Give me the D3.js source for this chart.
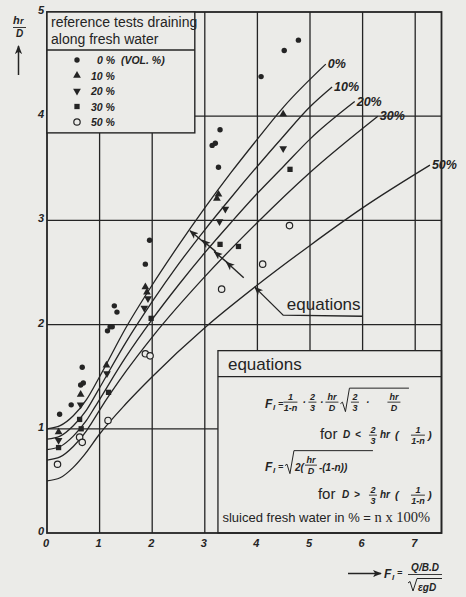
<!DOCTYPE html>
<html><head><meta charset="utf-8">
<script src="https://cdn.jsdelivr.net/npm/d3@7"></script>
<style>
html,body{margin:0;padding:0;background:#ebebe8;}
svg{display:block;}
</style></head><body>
<svg id="chart" width="466" height="597"></svg>
<script>
// Axis ticks
const xTicks = [0, 1, 2, 3, 4, 5, 6, 7];
const yTicks = [0, 1, 2, 3, 4, 5];

// Legend entries (share of sluiced fresh water, vol. %)
const seriesNames = ["0 %  (VOL. %)", "10 %", "20 %", "30 %", "50 %"];
const seriesKinds = ["dot", "tri", "triDown", "square", "ring"];

// Reference tests: [F_l, h_r/D]
const tests0 = [[0.24,1.14],[0.46,1.23],[0.64,1.42],[0.69,1.44],[0.67,1.59],[1.15,1.94],[1.20,1.98],[1.24,1.98],[1.28,2.18],[1.33,2.12],[1.87,2.58],[1.95,2.81],[3.14,3.72],[3.20,3.74],[3.26,3.51],[3.29,3.87],[4.07,4.38],[4.51,4.63],[4.78,4.73]];
const tests10 = [[0.22,0.97],[0.64,1.33],[1.13,1.61],[1.87,2.36],[1.90,2.31],[3.26,3.25],[3.23,3.21],[4.49,4.02]];
const tests20 = [[0.22,0.89],[0.64,1.23],[1.14,1.53],[1.92,2.25],[1.85,2.16],[3.39,3.11],[3.28,2.99],[4.49,3.69]];
const tests30 = [[0.22,0.82],[0.62,1.09],[0.65,1.00],[1.17,1.35],[1.98,2.06],[3.29,2.77],[3.64,2.75],[4.62,3.49]];
const tests50 = [[0.20,0.66],[0.62,0.92],[0.67,0.87],[1.16,1.08],[1.87,1.72],[1.96,1.70],[3.32,2.34],[4.10,2.58],[4.61,2.95]];

// Equation curves: [F_l, h_r/D]
const curve0 = [[0,1.0],[0.25,1.03],[0.5,1.125],[0.75,1.28],[1,1.5],[1.5,1.97],[2,2.38],[2.5,2.76],[3,3.12],[3.5,3.46],[4,3.78],[4.5,4.09],[5.3,4.5]];
const curve10 = [[0,0.9],[0.25,0.93],[0.5,1.03],[0.75,1.18],[0.95,1.35],[1.5,1.83],[2,2.22],[2.5,2.58],[3,2.91],[3.5,3.22],[4,3.52],[4.5,3.81],[5,4.09],[5.42,4.28]];
const curve20 = [[0,0.8],[0.25,0.83],[0.5,0.93],[0.75,1.08],[0.9,1.2],[1.5,1.69],[2,2.05],[2.5,2.38],[3,2.69],[3.5,2.98],[4,3.26],[4.5,3.52],[5,3.78],[5.85,4.14]];
const curve30 = [[0,0.7],[0.25,0.73],[0.5,0.83],[0.75,0.98],[0.84,1.05],[1,1.18],[1.5,1.55],[2,1.88],[3,2.46],[4,2.98],[5,3.46],[6.29,4.0]];
const curve50 = [[0,0.5],[0.25,0.53],[0.5,0.63],[0.71,0.75],[1,0.95],[1.5,1.24],[2,1.5],[3,1.97],[4,2.38],[5,2.76],[6,3.12],[7.28,3.53]];
const curveLabels = ["0%", "10%", "20%", "30%", "50%"];

// Arrows pointing at the curves: [tail, head]
const arrows = [[[2.98,2.79],[2.72,2.90]],[[3.21,2.70],[2.95,2.81]],[[3.44,2.59],[3.18,2.70]],[[3.74,2.45],[3.41,2.60]]];
const leader = [[3.95,2.36],[4.49,2.09],[6.0,2.08]];

const ink = "#242424";
const paper = "#ebebe8";
const svg = d3.select("#chart");

const x = d3.scaleLinear().domain([0, 7.5]).range([47, 441.5]);
const y = d3.scaleLinear().domain([0, 5]).range([533, 12]);

// legend box and equation box extents, in data units
const legendX1 = 2.81, legendY0 = 3.84;
const eqX0 = 3.25, eqY1 = 1.75, eqHeaderY = 1.5;

const defs = svg.append("defs");
defs.append("marker").attr("id", "head").attr("viewBox", "0 0 10 10")
  .attr("refX", 9).attr("refY", 5).attr("markerWidth", 9).attr("markerHeight", 9)
  .attr("markerUnits", "userSpaceOnUse").attr("orient", "auto")
  .append("path").attr("d", "M0,1 L10,5 L0,9 L2.5,5 Z").attr("fill", ink);

const grid = svg.append("g").attr("stroke", ink).attr("stroke-width", 1.3).attr("fill", "none");
function seg(x0, y0, x1, y1) {
  grid.append("line").attr("x1", x(x0)).attr("y1", y(y0)).attr("x2", x(x1)).attr("y2", y(y1));
}
// vertical grid
[1, 2].forEach(v => seg(v, 0, v, legendY0));
seg(3, 0, 3, 5);
[4, 5, 6, 7].forEach(v => seg(v, eqY1, v, 5));
// horizontal grid
seg(0, 1, eqX0, 1);
seg(0, 2, 7.5, 2);
seg(0, 3, 7.5, 3);
seg(legendX1, 4, 7.5, 4);
// small ticks on the x axis inside the equation box
[4, 5, 6, 7].forEach(v => grid.append("line").attr("x1", x(v)).attr("x2", x(v)).attr("y1", y(0)).attr("y2", y(0) - 4));

// equation box
grid.append("rect").attr("x", x(eqX0)).attr("y", y(eqY1)).attr("width", x(7.5) - x(eqX0)).attr("height", y(0) - y(eqY1)).attr("fill", paper);
seg(eqX0, eqHeaderY, 7.5, eqHeaderY);

// curves
const line = d3.line().x(d => x(d[0])).y(d => y(d[1])).curve(d3.curveMonotoneX);
const curves = [curve0, curve10, curve20, curve30, curve50];
const cg = svg.append("g");
curves.forEach((c, i) => {
  cg.append("path").attr("d", line(c)).attr("fill", "none").attr("stroke", ink).attr("stroke-width", 1.3);
  const last = c[c.length - 1];
  cg.append("text").attr("x", x(last[0]) + 2).attr("y", y(last[1]) + 4)
    .attr("font-family", "Liberation Sans").attr("font-style", "italic").attr("font-weight", "bold")
    .attr("font-size", 12.5).attr("fill", ink).text(curveLabels[i]);
});

// arrows and leader
arrows.forEach(a => {
  svg.append("line").attr("x1", x(a[0][0])).attr("y1", y(a[0][1])).attr("x2", x(a[1][0])).attr("y2", y(a[1][1]))
    .attr("stroke", ink).attr("stroke-width", 1.4).attr("marker-end", "url(#head)");
});
svg.append("path").attr("d", d3.line().x(d => x(d[0])).y(d => y(d[1]))(leader.slice().reverse()))
  .attr("fill", "none").attr("stroke", ink).attr("stroke-width", 1.3).attr("marker-end", "url(#head)");
svg.append("text").attr("x", x(4.56)).attr("y", y(2.14)).attr("font-family", "Liberation Sans")
  .attr("font-size", 17).attr("fill", ink).text("equations");

// data markers
function drawMarker(g, kind, cx, cy) {
  if (kind === "dot") {
    g.append("circle").attr("cx", cx).attr("cy", cy).attr("r", 2.7).attr("fill", ink);
  } else if (kind === "ring") {
    g.append("circle").attr("cx", cx).attr("cy", cy).attr("r", 3.2).attr("fill", paper).attr("stroke", ink).attr("stroke-width", 1.2);
  } else {
    const type = kind === "square" ? d3.symbolSquare : d3.symbolTriangle;
    const size = kind === "square" ? 28 : 26;
    g.append("path").attr("d", d3.symbol().type(type).size(size)())
      .attr("transform", `translate(${cx},${cy})` + (kind === "triDown" ? " rotate(180)" : ""))
      .attr("fill", ink);
  }
}
const tests = [tests0, tests10, tests20, tests30, tests50];
const mg = svg.append("g");
tests.forEach((set, i) => set.forEach(d => drawMarker(mg, seriesKinds[i], x(d[0]), y(d[1]))));

// frame
svg.append("rect").attr("x", x(0)).attr("y", y(5)).attr("width", x(7.5) - x(0)).attr("height", y(0) - y(5))
  .attr("fill", "none").attr("stroke", ink).attr("stroke-width", 1.8);

// legend box
const lg = svg.append("g").attr("transform", `translate(${x(0)},${y(5)})`);
lg.append("rect").attr("x", 0).attr("y", 0).attr("width", x(legendX1) - x(0)).attr("height", y(legendY0) - y(5))
  .attr("fill", paper).attr("stroke", ink).attr("stroke-width", 1.4);
lg.append("line").attr("x1", 0).attr("x2", x(legendX1) - x(0)).attr("y1", 38).attr("y2", 38).attr("stroke", ink).attr("stroke-width", 1.3);
lg.append("text").attr("x", 4).attr("y", 15).attr("font-family", "Liberation Sans").attr("font-size", 14).attr("fill", ink).text("reference tests draining");
lg.append("text").attr("x", 4).attr("y", 32).attr("font-family", "Liberation Sans").attr("font-size", 14).attr("fill", ink).text("along fresh water");
seriesNames.forEach((name, i) => {
  const cy = 48 + i * 15.5;
  drawMarker(lg, seriesKinds[i], 30, cy);
  lg.append("text").attr("x", i === 0 ? 50 : 44).attr("y", cy + 4)
    .attr("font-family", "Liberation Sans").attr("font-style", "italic").attr("font-weight", "bold")
    .attr("font-size", 10.5).attr("fill", ink).attr("xml:space", "preserve").text(name);
});

// tick labels
const tickFont = g => g.attr("font-family", "Liberation Sans").attr("font-style", "italic").attr("font-weight", "bold").attr("font-size", 11).attr("fill", ink);
const xl = svg.append("g").call(tickFont).attr("text-anchor", "middle");
xTicks.forEach(t => xl.append("text").attr("x", x(t) - 1).attr("y", 547).text(t));
const yl = svg.append("g").call(tickFont).attr("text-anchor", "end");
yTicks.forEach(t => yl.append("text").attr("x", 44).attr("y", y(t) + 2).text(t));

// generic text helper
function tx(g, px, py, s, o = {}) {
  return g.append("text").attr("x", px).attr("y", py)
    .attr("font-family", o.family || "Liberation Sans")
    .attr("font-style", o.italic === false ? "normal" : "italic")
    .attr("font-weight", o.bold === false ? "normal" : "bold")
    .attr("font-size", o.size || 10).attr("text-anchor", o.anchor || "start")
    .attr("fill", ink).text(s);
}
function bar(g, x0, x1, py) {
  g.append("line").attr("x1", x0).attr("x2", x1).attr("y1", py).attr("y2", py).attr("stroke", ink).attr("stroke-width", 0.9);
}
function frac(g, cx, py, top, bottom, w) {
  tx(g, cx, py - 4, top, { anchor: "middle", size: 9 });
  bar(g, cx - w / 2, cx + w / 2, py - 1.5);
  tx(g, cx, py + 7.5, bottom, { anchor: "middle", size: 9 });
}
function radical(g, x0, yb, ytop, x1) {
  g.append("path").attr("d", `M${x0},${yb - 8} L${x0 + 2},${yb - 9.5} L${x0 + 5},${yb} L${x0 + 9},${ytop} L${x1},${ytop}`)
    .attr("fill", "none").attr("stroke", ink).attr("stroke-width", 1);
}
function Fl(g, px, py) {
  tx(g, px, py, "F", { size: 12 });
  tx(g, px + 8, py + 2, "l", { size: 8 });
  tx(g, px + 13, py - 1, "=", { size: 9 });
}

// equation box contents
const eq = svg.append("g").attr("transform", `translate(${x(eqX0)},${y(eqY1)})`);
tx(eq, 10, 19, "equations", { italic: false, bold: false, size: 17 });
// first equation
Fl(eq, 47, 57);
frac(eq, 72.5, 53, "1", "1-n", 14);
tx(eq, 84.5, 55, "·", { size: 10 });
frac(eq, 94.5, 53, "2", "3", 8);
tx(eq, 102, 55, "·", { size: 10 });
frac(eq, 114, 53, "hr", "D", 13);
radical(eq, 122.5, 61, 37.5, 191);
frac(eq, 137, 53, "2", "3", 8);
tx(eq, 148, 55, "·", { size: 10 });
frac(eq, 176, 53, "hr", "D", 13);
// first condition
tx(eq, 102, 88, "for", { italic: false, bold: false, size: 15 });
tx(eq, 125, 87, "D", { size: 10 });
tx(eq, 137, 87, "<", { size: 10 });
frac(eq, 155, 86, "2", "3", 8);
tx(eq, 162, 87, "hr", { size: 10 });
tx(eq, 177, 88, "(", { size: 11 });
frac(eq, 200, 86, "1", "1-n", 14);
tx(eq, 210, 88, ")", { size: 11 });
// second equation
Fl(eq, 47, 120);
radical(eq, 67, 123, 100, 155);
tx(eq, 77, 120, "2(", { size: 10 });
frac(eq, 93, 116, "hr", "D", 12);
tx(eq, 101, 120, "-(1-n))", { size: 10 });
// second condition
tx(eq, 100, 148, "for", { italic: false, bold: false, size: 15 });
tx(eq, 124, 147, "D", { size: 10 });
tx(eq, 136, 147, ">", { size: 10 });
frac(eq, 155, 146, "2", "3", 8);
tx(eq, 162, 147, "hr", { size: 10 });
tx(eq, 177, 148, "(", { size: 11 });
frac(eq, 200, 146, "1", "1-n", 14);
tx(eq, 210, 148, ")", { size: 11 });
// footnote
const fn = eq.append("text").attr("x", 4.5).attr("y", 171).attr("fill", ink).attr("font-size", 13);
fn.append("tspan").attr("font-family", "Liberation Sans").text("sluiced fresh water in % = ");
fn.append("tspan").attr("font-family", "Liberation Serif").attr("font-size", 14.5).text("n x 100%");

// y-axis title
const yt = svg.append("g");
tx(yt, 13, 24, "h", { size: 11 });
tx(yt, 20, 24, "r", { size: 9 });
bar(yt, 13, 26, 27.5);
tx(yt, 19.5, 37, "D", { size: 10, anchor: "middle" });
yt.append("line").attr("x1", 18.5).attr("x2", 18.5).attr("y1", 75).attr("y2", 46)
  .attr("stroke", ink).attr("stroke-width", 1.5).attr("marker-end", "url(#head)");

// x-axis title
const xt = svg.append("g");
xt.append("line").attr("x1", 348).attr("x2", 381).attr("y1", 573.5).attr("y2", 573.5)
  .attr("stroke", ink).attr("stroke-width", 1.4).attr("marker-end", "url(#head)");
tx(xt, 384, 578, "F", { size: 12 });
tx(xt, 392, 580, "l", { size: 8 });
tx(xt, 397, 576, "=", { size: 9 });
tx(xt, 425, 571, "Q/B.D", { size: 10, anchor: "middle" });
bar(xt, 408, 442, 574.5);
radical(xt, 408, 591, 578.5, 442);
tx(xt, 418, 591, "εgD", { size: 10 });
</script>
</body></html>
